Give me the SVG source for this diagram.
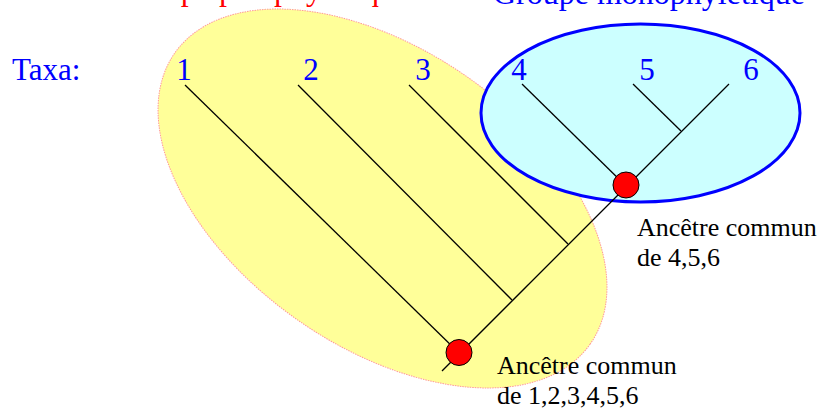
<svg xmlns="http://www.w3.org/2000/svg" width="825" height="412" viewBox="0 0 825 412">
<style>
.t{font-family:"Liberation Serif","Times New Roman","DejaVu Serif",serif}
.title{font-size:32px}
.taxon{font-size:31px;fill:#0000ff;text-anchor:middle}
.lbl{font-size:26px;fill:#000}
.br{stroke:#000;stroke-width:1.3;fill:none}
.anc{fill:#ff0000;stroke:#000;stroke-width:1}
</style>
<rect width="825" height="412" fill="#fff"/>
<text class="t title" x="115" y="0" fill="#ff0000">Groupe paraphylétique</text>
<text class="t title" x="493" y="4" fill="#0000ff">Groupe monophylétique</text>
<g id="paraphyletic-group">
<ellipse cx="382.5" cy="198.5" rx="253.6" ry="148.2" transform="rotate(35 382.5 198.5)" fill="#ffff99" stroke="#ff9999" stroke-width="1" stroke-dasharray="1.5 1"/>
</g>
<g id="monophyletic-group">
<ellipse cx="640.5" cy="113" rx="159.5" ry="89" fill="#ccffff" stroke="#0000ff" stroke-width="3"/>
</g>
<text class="t" x="12" y="80" fill="#0000ff" font-size="31">Taxa:</text>
<g id="taxon-1"><text class="t taxon" x="184" y="80">1</text></g>
<g id="taxon-2"><text class="t taxon" x="311" y="80">2</text></g>
<g id="taxon-3"><text class="t taxon" x="423" y="80">3</text></g>
<g id="taxon-4"><text class="t taxon" x="519" y="80">4</text></g>
<g id="taxon-5"><text class="t taxon" x="647" y="80">5</text></g>
<g id="taxon-6"><text class="t taxon" x="751" y="80">6</text></g>
<g id="connectors">
<line class="br" x1="442" y1="371" x2="729" y2="84"/>
<line class="br" x1="185" y1="85" x2="459" y2="353"/>
<line class="br" x1="298" y1="85" x2="512" y2="300"/>
<line class="br" x1="409" y1="85" x2="568" y2="244"/>
<line class="br" x1="522" y1="84" x2="626" y2="186"/>
<line class="br" x1="633" y1="84" x2="681" y2="131"/>
</g>
<g id="ancestor-all">
<circle class="anc" cx="459" cy="352.5" r="13"/>
<text class="t lbl" x="497" y="374">Ancêtre commun</text>
<text class="t lbl" x="497" y="404">de 1,2,3,4,5,6</text>
</g>
<g id="ancestor-456">
<circle class="anc" cx="626" cy="185" r="13"/>
<text class="t lbl" x="637" y="236">Ancêtre commun</text>
<text class="t lbl" x="637" y="266">de 4,5,6</text>
</g>
</svg>
